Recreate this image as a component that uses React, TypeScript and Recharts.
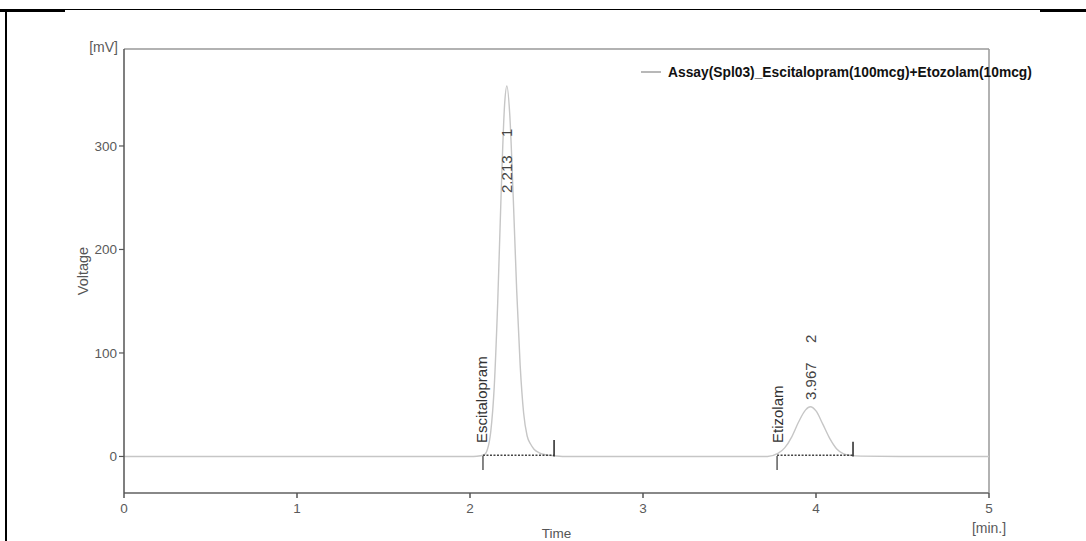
import React from 'react';
import { LineChart, Line, XAxis, YAxis, ReferenceLine, ReferenceDot, Legend, Label } from 'recharts';

const seriesName = 'Assay(Spl03)_Escitalopram(100mcg)+Etozolam(10mcg)';
const timeMin = [0, 0.5, 1.0, 1.5, 2.0, 2.04, 2.08, 2.1, 2.12, 2.14, 2.16, 2.18, 2.2, 2.213, 2.23, 2.25, 2.27, 2.29, 2.31, 2.33, 2.35, 2.37, 2.4, 2.44, 2.5, 2.56, 3.0, 3.5, 3.72, 3.78, 3.82, 3.86, 3.9, 3.94, 3.967, 4.0, 4.04, 4.08, 4.12, 4.16, 4.2, 4.26, 4.5, 5.0];
const voltageMv = [0, 0, 0, 0, 0, 0.2, 1.4, 6.5, 24, 67, 148, 254, 340, 358, 330, 250, 160, 88, 42, 20, 12, 7, 3.5, 1.5, 0.5, 0, 0, 0, 0, 2.9, 8.5, 19, 33.5, 45, 48, 44, 31, 17.3, 7.3, 2.5, 1, 0.3, 0, 0];

const xTicks = [0, 1, 2, 3, 4, 5];
const yTicks = [0, 100, 200, 300];
const yDomain = [-35.3, 393.7];

const peakNames = ['Escitalopram', 'Etizolam'];
const peakTimes = ['2.213', '3.967'];
const peakNumbers = ['1', '2'];
const peakRt = [2.213, 3.967];
const peakNameX = [2.064, 3.775];
const peakNameY = [13, 13];
const peakRtLabelY = [254.6, 54.6];
const peakNumLabelY = [308.7, 109.7];
const baselineStart = [2.075, 3.775];
const baselineEnd = [2.486, 4.214];
const startTickLow = [-13, -13];
const endTickHigh = [16, 14.3];

const data = timeMin.map((t, i) => ({ t, v: voltageMv[i] }));

const FONT = '"Liberation Sans", Arial, Helvetica, sans-serif';

const vText = (label: string, size: number, color: string) => (props: any) => {
  const { cx, cy } = props;
  if (cx == null || cy == null) return <g />;
  return (
    <text
      x={cx}
      y={cy}
      transform={`rotate(-90, ${cx}, ${cy})`}
      textAnchor="start"
      dominantBaseline="central"
      fontSize={size}
      fontFamily={FONT}
      fill={color}
    >
      {label}
    </text>
  );
};

const LegendContent = () => (
  <svg width={460} height={20} style={{ display: 'block', overflow: 'visible' }}>
    <line x1={5} y1={9} x2={25} y2={9} stroke="#888" strokeWidth={1.2} />
    <text x={32} y={9} dominantBaseline="central" fontSize={13.8} fontWeight="bold" fontFamily={FONT} fill="#111">
      {seriesName}
    </text>
  </svg>
);

export default function App() {
  return (
    <div style={{ position: 'absolute', left: 0, top: 0, width: 1086, height: 541, background: '#fff', overflow: 'hidden' }}>
      <div style={{ position: 'absolute', left: 0, top: 9, width: 1086, height: 1, background: '#000' }} />
      <div style={{ position: 'absolute', left: 0, top: 9, width: 65, height: 3, background: '#000' }} />
      <div style={{ position: 'absolute', left: 1040, top: 9, width: 46, height: 3, background: '#000' }} />
      <div style={{ position: 'absolute', left: 5, top: 9, width: 2, height: 532, background: '#000' }} />
      <div style={{ position: 'absolute', left: 0, top: 0 }}>
        <LineChart width={1086} height={541} data={data} margin={{ top: 49, right: 97, bottom: 18, left: 64 }}>
          <XAxis
            dataKey="t"
            type="number"
            domain={[0, 5]}
            ticks={xTicks}
            interval={0}
            tickSize={5}
            tickMargin={5}
            stroke="#888"
            strokeWidth={2}
            tick={{ fontSize: 13.5, fill: '#5a5a5a', fontFamily: FONT }}
            tickLine={{ stroke: '#555', strokeWidth: 1.5 }}
          >
            <Label
              content={(p: any) => {
                const vb = p.viewBox;
                return (
                  <text x={vb.x + vb.width / 2} y={vb.y + 40} textAnchor="middle" dominantBaseline="central" fontSize={13.5} fontFamily={FONT} fill="#555">
                    Time
                  </text>
                );
              }}
            />
            <Label
              content={(p: any) => {
                const vb = p.viewBox;
                return (
                  <text x={vb.x + vb.width} y={vb.y + 35} textAnchor="middle" dominantBaseline="central" fontSize={14} fontFamily={FONT} fill="#5a5a5a">
                    [min.]
                  </text>
                );
              }}
            />
          </XAxis>
          <YAxis
            type="number"
            domain={yDomain}
            ticks={yTicks}
            interval={0}
            tickSize={5}
            tickMargin={2}
            stroke="#555"
            strokeWidth={1.5}
            tick={{ fontSize: 13.5, fill: '#5a5a5a', fontFamily: FONT }}
            tickLine={{ stroke: '#555', strokeWidth: 1.2 }}
          >
            <Label
              content={(p: any) => {
                const vb = p.viewBox;
                const x = vb.x + 19;
                const y = vb.y + vb.height / 2;
                return (
                  <text x={x} y={y} transform={`rotate(-90, ${x}, ${y})`} textAnchor="middle" dominantBaseline="central" fontSize={14.5} fontFamily={FONT} fill="#555">
                    Voltage
                  </text>
                );
              }}
            />
            <Label
              content={(p: any) => {
                const vb = p.viewBox;
                return (
                  <text x={vb.x + vb.width - 6} y={vb.y - 2} textAnchor="end" dominantBaseline="central" fontSize={14} fontFamily={FONT} fill="#5a5a5a">
                    [mV]
                  </text>
                );
              }}
            />
          </YAxis>
          <ReferenceLine y={yDomain[1]} stroke="#999" strokeWidth={1.5} />
          <ReferenceLine x={5} stroke="#999" strokeWidth={1.5} />
          <Legend
            layout="horizontal"
            verticalAlign="middle"
            align="center"
            wrapperStyle={{ top: 63, left: 636, width: 460, height: 20 }}
            content={() => <LegendContent />}
          />
          <Line
            type="monotone"
            dataKey="v"
            name={seriesName}
            stroke="#c6c6c6"
            strokeWidth={1.4}
            dot={false}
            activeDot={false}
            isAnimationActive={false}
          />
          {baselineStart.map((s, i) => (
            <ReferenceLine
              key={`bl${i}`}
              segment={[{ x: s, y: 1.2 }, { x: baselineEnd[i], y: 1.2 }]}
              stroke="#444"
              strokeWidth={1.5}
              strokeDasharray="2 1.5"
            />
          ))}
          {baselineStart.map((s, i) => (
            <ReferenceLine
              key={`st${i}`}
              segment={[{ x: s, y: 0.5 }, { x: s, y: startTickLow[i] }]}
              stroke="#444"
              strokeWidth={1.3}
            />
          ))}
          {baselineEnd.map((e, i) => (
            <ReferenceLine
              key={`en${i}`}
              segment={[{ x: e, y: 0 }, { x: e, y: endTickHigh[i] }]}
              stroke="#333"
              strokeWidth={1.6}
            />
          ))}
          {peakNames.map((n, i) => (
            <ReferenceDot key={`pn${i}`} x={peakNameX[i]} y={peakNameY[i]} r={0} shape={vText(n, 15, '#333')} />
          ))}
          {peakTimes.map((n, i) => (
            <ReferenceDot key={`pt${i}`} x={peakRt[i]} y={peakRtLabelY[i]} r={0} shape={vText(n, 15, '#444')} />
          ))}
          {peakNumbers.map((n, i) => (
            <ReferenceDot key={`pk${i}`} x={peakRt[i]} y={peakNumLabelY[i]} r={0} shape={vText(n, 15, '#444')} />
          ))}
        </LineChart>
      </div>
    </div>
  );
}
